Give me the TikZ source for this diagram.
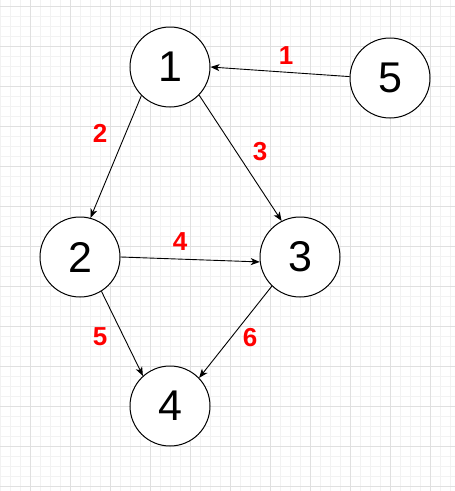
\documentclass[tikz,border=0pt]{standalone}
\usepackage{fontspec}
\setmainfont{Liberation Sans}
\usetikzlibrary{arrows.meta}
\definecolor{gridminor}{HTML}{F2F2F2}
\definecolor{gridmajor}{HTML}{E0E0E0}
\definecolor{lblred}{HTML}{FF0000}
\begin{document}
\begin{tikzpicture}[x=1pt,y=-1pt,
  vertex/.style={circle,draw=black,fill=white,line width=1pt,minimum size=80pt,inner sep=0pt,
    font=\fontsize{43}{43}\selectfont},
  edge/.style={draw=black,line width=0.9pt,-{Stealth[length=9pt,width=7pt,inset=2.5pt]}},
  weight/.style={text=lblred,font=\fontsize{26}{26}\selectfont\bfseries,inner sep=0pt},
  minorline/.style={draw=gridminor,line width=1pt},
  majorline/.style={draw=gridmajor,line width=1pt}]
\useasboundingbox (0,0) rectangle (455,491);
\fill[white] (0,0) rectangle (455,491);
% grid
\foreach \x in {0,10,...,450} \draw[minorline] (\x,0) -- (\x,491);
\foreach \y in {6,16,...,486} \draw[minorline] (0,\y) -- (455,\y);
\foreach \x in {30,70,...,430} \draw[majorline] (\x,0) -- (\x,491);
\foreach \y in {6,46,...,486} \draw[majorline] (0,\y) -- (455,\y);
% nodes
\node[vertex] (n1) at (170,67) {1};
\node[vertex] (n5) at (390,78) {5};
\node[vertex] (n2) at (80,257) {2};
\node[vertex] (n3) at (300,257) {3};
\node[vertex] (n4) at (170,406) {4};
% edges
\draw[edge] (n5.178) -- (n1.0);
\draw[edge] (n1.225) -- (n2.75);
\draw[edge] (n1.316) -- (n3.117);
\draw[edge] (n2.0) -- (n3.187);
\draw[edge] (n2.302) -- (n4.132);
\draw[edge] (n3.226) -- (n4.44);
% weights
\node[weight] (w1) at (286,56) {1};
\node[weight] (w2) at (100,133) {2};
\node[weight] (w3) at (260,152) {3};
\node[weight] (w4) at (180,242) {4};
\node[weight] (w5) at (100,337) {5};
\node[weight] (w6) at (250,338) {6};
\end{tikzpicture}
\end{document}
